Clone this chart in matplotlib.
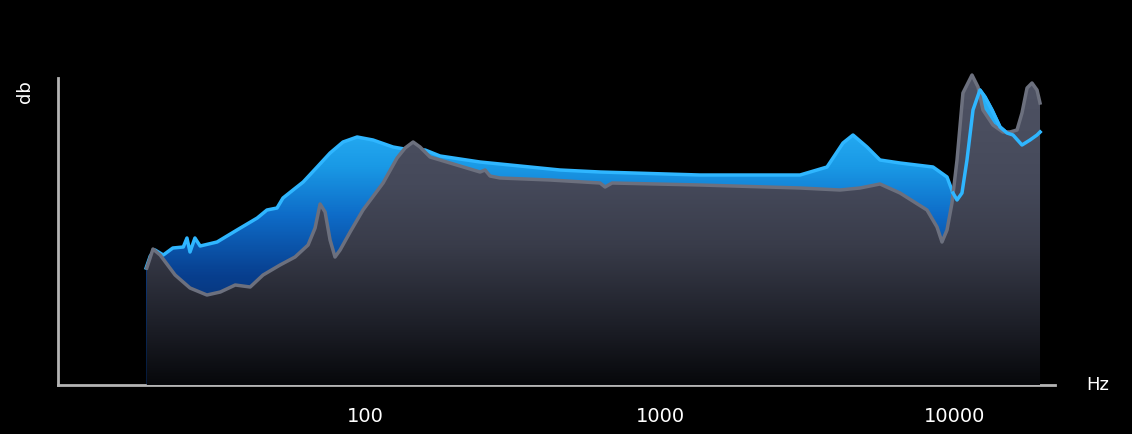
import numpy as np
import matplotlib
matplotlib.use('Agg')
import matplotlib.pyplot as plt
from matplotlib.colors import LinearSegmentedColormap
from matplotlib.patches import Polygon

# measured curve (front, gray) : frequency in Hz, level in arbitrary dB units
gray_freq = [18.2, 19.1, 20.2, 22.7, 25.5, 29.1, 32.3, 36.3, 40.8, 45.1, 51.5, 57.9,
             64.1, 67.7, 70.4, 73.2, 76.1, 79.1, 82.3, 89.0, 98.4, 115.1, 128.4, 136.7,
             145.5, 153.6, 166.1, 179.6, 209.9, 245.4, 255.2, 265.3, 286.8, 423.8,
             626.1, 651.1, 687.7, 1367, 2983, 4075, 4764, 5569, 6511, 8037, 8690,
             9035, 9396, 9768, 10160, 10640, 11420, 11970, 12440, 13450, 14540,
             15360, 16230, 16870, 17550, 18240, 18970, 19420]
gray_db = [117, 136, 130, 110, 97, 90, 93, 100, 98, 110, 120, 128,
           140, 157, 181, 173, 145, 128, 135, 153, 175, 202, 227, 237,
           243, 238, 228, 225, 219, 213, 215, 209, 207, 205,
           202, 198, 202, 200, 197, 195, 197, 201, 192, 175, 158,
           143, 155, 182, 225, 292, 310, 298, 275, 260, 253,
           253, 255, 272, 297, 302, 295, 282]

# target curve (behind, blue)
blue_freq = [18.1, 18.7, 19.4, 20.7, 22.3, 24.2, 24.9, 25.5, 26.5, 27.6, 31.5, 36.8,
             43.1, 46.5, 50.3, 52.7, 57.0, 61.7, 68.8, 76.1, 84.2, 94.0, 106.4, 124.4,
             142.1, 159.8, 179.6, 245.4, 335.3, 458.1, 626.1, 1367, 2983, 3683, 4172,
             4510, 5031, 5569, 6511, 8422, 9396, 9845, 10160, 10560, 10980, 11510,
             12150, 12640, 13350, 14210, 15010, 15730, 16870, 17960, 18970, 19420]
blue_db = [117, 129, 135, 130, 137, 138, 147, 133, 147, 139, 143, 155,
           167, 175, 177, 187, 195, 203, 218, 232, 243, 248, 245, 238,
           235, 235, 229, 223, 219, 215, 213, 210, 210, 218, 242,
           250, 238, 225, 222, 218, 208, 192, 185, 192, 225, 275,
           295, 288, 275, 258, 252, 250, 240, 245, 250, 253]

tick_freq = [100, 1000, 10000]
tick_text = ['100', '1000', '10000']

fig = plt.figure(figsize=(11.32, 4.34), dpi=100, facecolor='black')
ax = fig.add_axes([58 / 1132, 49 / 434, 997 / 1132, 320 / 434])
ax.set_facecolor('black')
ax.set_xscale('log')
ax.set_xlim(9.1, 21830)
ax.set_ylim(0, 320)

ymax = 320.0
grad = np.linspace(0, 1, 400).reshape(-1, 1)

gray_cmap = LinearSegmentedColormap.from_list('g', [
    (0.0, '#07080b'), (60 / ymax, '#1d1f28'), (140 / ymax, '#393c4a'),
    (200 / ymax, '#45495a'), (1.0, '#505465')])
blue_cmap = LinearSegmentedColormap.from_list('b', [
    (0.0, '#05204a'), (110 / ymax, '#083f8f'), (170 / ymax, '#0e6cc8'),
    (220 / ymax, '#1a9ae6'), (260 / ymax, '#26acf3'), (1.0, '#2cb4f8')])


def gradient_fill(freq, db, cmap, z):
    verts = list(zip(freq, db)) + [(freq[-1], 0), (freq[0], 0)]
    poly = Polygon(verts, closed=True, facecolor='none', edgecolor='none',
                   transform=ax.transData)
    ax.add_patch(poly)
    im = ax.imshow(grad, cmap=cmap, aspect='auto', origin='lower',
                   extent=[0, 1, 0, 1], transform=ax.transAxes, zorder=z)
    im.set_clip_path(poly)


gradient_fill(blue_freq, blue_db, blue_cmap, 1)
ax.plot(blue_freq, blue_db, color='#2fb6ff', linewidth=2.5, zorder=2,
        solid_joinstyle='round')

gradient_fill(gray_freq, gray_db, gray_cmap, 3)
ax.plot(gray_freq, gray_db, color='#6c707e', linewidth=2.5, zorder=4,
        solid_joinstyle='round')

# high frequency part of target line shows above the measured fill
hi = [i for i, f in enumerate(blue_freq) if f >= 9800]
ax.plot([blue_freq[i] for i in hi], [blue_db[i] for i in hi], color='#2fb6ff',
        linewidth=2.5, zorder=5, solid_joinstyle='round')

for s in ['top', 'right']:
    ax.spines[s].set_visible(False)
for s in ['left', 'bottom']:
    ax.spines[s].set_color('#b4b4b4')
    ax.spines[s].set_linewidth(2)
ax.spines['left'].set_bounds(0, 307)

ax.set_yticks([])
ax.set_xticks(tick_freq)
ax.set_xticklabels(tick_text, color='white', fontsize=14)
ax.xaxis.set_minor_locator(matplotlib.ticker.NullLocator())
ax.tick_params(axis='x', length=0, pad=16)

fig.text(25 / 1132, 1 - 92 / 434, 'db', color='white', fontsize=13,
         rotation=90, ha='center', va='center')
fig.text(1098 / 1132, 1 - 385 / 434, 'Hz', color='white', fontsize=13,
         ha='center', va='center')

plt.savefig('out.png', dpi=100, facecolor='black')
